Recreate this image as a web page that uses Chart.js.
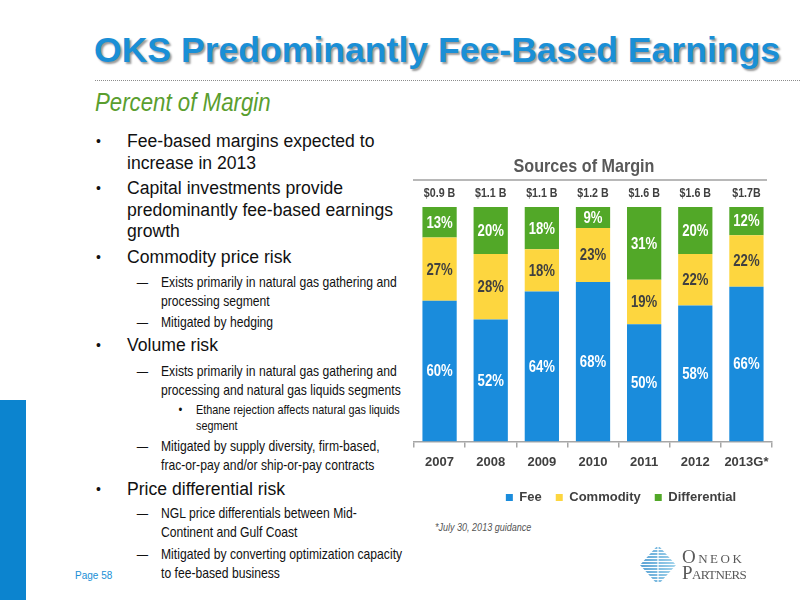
<!DOCTYPE html>
<html>
<head>
<meta charset="UTF-8">
<title>OKS Predominantly Fee-Based Earnings</title>
<script src="https://cdn.jsdelivr.net/npm/chart.js@4"></script>
<style>
	html, body {
		margin: 0;
		width: 800px;
		height: 600px;
		overflow: hidden;
		background: #fff;
		font-family: "Liberation Sans", Arial, sans-serif;
		color: #111;
	}
	.abs { position: absolute; white-space: nowrap; }
	.narrow { transform-origin: 0 0; }
	#title {
		left: 94px; top: 30px;
		font-size: 35.6px; font-weight: bold; color: #1a8fd6;
		text-shadow: 2px 2px 2px #9a9a9a;
	}
	#rule { left: 95px; top: 80px; width: 705px; border-top: 1px dotted #8c8c8c; }
	#subtitle {
		left: 95px; top: 88px;
		font-size: 25px; font-style: italic; color: #5a9e2f;
		transform: scaleX(0.89);
	}
	.b1 { left: 127px; font-size: 17.6px; line-height: 21.5px; }
	.b2 { left: 161px; font-size: 15px; line-height: 18.5px; transform: scaleX(0.81); }
	.b3 { left: 196px; font-size: 13px; line-height: 16px; transform: scaleX(0.835); }
	.b1::before, .b2::before, .b3::before { position: absolute; }
	.b1::before { content: "\2022"; left: -31px; font-size: 14px; }
	.b2::before { content: "\2014"; left: -30px; font-size: 14px; }
	.b3::before { content: "\2022"; left: -21px; }
	#sidebar { left: 0; top: 400px; width: 26px; height: 200px; background: #0c84cf; }
	#page { left: 75px; top: 570px; font-size: 10px; color: #1a8fd6; }
	#note {
		left: 435px; top: 521px;
		font-size: 11px; font-style: italic; color: #555;
		transform: scaleX(0.82);
	}
	#chartBox { position: absolute; left: 400px; top: 150px; width: 440px; height: 400px; }
	#logoText {
		left: 682px; top: 549px;
		font-family: "Liberation Serif", serif; font-variant: small-caps;
		font-size: 19px; line-height: 15.5px; color: #595959;
	}
</style>
</head>
<body>
	<div id="title" class="abs">OKS Predominantly Fee-Based Earnings</div>
	<div id="rule" class="abs"></div>
	<div id="subtitle" class="abs narrow">Percent of Margin</div>

	<div class="abs b1" style="top:131px">Fee-based margins expected to<br>increase in 2013</div>
	<div class="abs b1" style="top:178px">Capital investments provide<br>predominantly fee-based earnings<br>growth</div>
	<div class="abs b1" style="top:247px">Commodity price risk</div>
	<div class="abs b2 narrow" style="top:273px">Exists primarily in natural gas gathering and<br>processing segment</div>
	<div class="abs b2 narrow" style="top:313px">Mitigated by hedging</div>
	<div class="abs b1" style="top:335px">Volume risk</div>
	<div class="abs b2 narrow" style="top:362px">Exists primarily in natural gas gathering and<br>processing and natural gas liquids segments</div>
	<div class="abs b3 narrow" style="top:402px">Ethane rejection affects natural gas liquids<br>segment</div>
	<div class="abs b2 narrow" style="top:437px">Mitigated by supply diversity, firm-based,<br>frac-or-pay and/or ship-or-pay contracts</div>
	<div class="abs b1" style="top:479px">Price differential risk</div>
	<div class="abs b2 narrow" style="top:504px">NGL price differentials between Mid-<br>Continent and Gulf Coast</div>
	<div class="abs b2 narrow" style="top:545px">Mitigated by converting optimization capacity<br>to fee-based business</div>

	<div id="sidebar" class="abs"></div>
	<div id="page" class="abs">Page 58</div>
	<div id="note" class="abs narrow">*July 30, 2013 guidance</div>

	<div id="chartBox"><canvas id="marginChart"></canvas></div>

	<svg class="abs" style="left:638px; top:544px" width="40" height="42" viewBox="0 0 40 42">
		<defs>
			<clipPath id="dia"><polygon points="20,1 38,21 20,41 2,21"/></clipPath>
			<linearGradient id="fade" gradientUnits="userSpaceOnUse" x1="0" y1="0" x2="40" y2="0">
				<stop offset="0" stop-color="#1b7fc4"/>
				<stop offset="1" stop-color="#8ccbe8"/>
			</linearGradient>
		</defs>
		<g clip-path="url(#dia)" stroke="url(#fade)" stroke-width="1.7">
			<line x1="0" y1="4" x2="40" y2="4"/><line x1="0" y1="7" x2="40" y2="7"/>
			<line x1="0" y1="10" x2="40" y2="10"/><line x1="0" y1="13" x2="40" y2="13"/>
			<line x1="0" y1="16" x2="40" y2="16"/><line x1="0" y1="19" x2="40" y2="19"/>
			<line x1="0" y1="22" x2="40" y2="22"/><line x1="0" y1="25" x2="40" y2="25"/>
			<line x1="0" y1="28" x2="40" y2="28"/><line x1="0" y1="31" x2="40" y2="31"/>
			<line x1="0" y1="34" x2="40" y2="34"/><line x1="0" y1="37" x2="40" y2="37"/>
		</g>
		<line x1="20" y1="0" x2="20" y2="42" stroke="#fff" stroke-width="1.2"/>
	</svg>
	<div id="logoText" class="abs"><span style="letter-spacing:2.5px">Oneok</span><br><span style="letter-spacing:-0.6px">Partners</span></div>
<script>

var FONT = '"Liberation Sans", Arial, sans-serif';

var years = ['2007', '2008', '2009', '2010', '2011', '2012', '2013G*'];
var totals = ['$0.9 B', '$1.1 B', '$1.1 B', '$1.2 B', '$1.6 B', '$1.6 B', '$1.7B'];
var fee = [60, 52, 64, 68, 50, 58, 66];
var commodity = [27, 28, 18, 23, 19, 22, 22];
var differential = [13, 20, 18, 9, 31, 20, 12];

// text squeezed horizontally to look like a narrow face
function narrowText(ctx, text, x, y, squeeze) {
	ctx.save();
	ctx.translate(x, y);
	ctx.scale(squeeze, 1);
	ctx.fillText(text, 0, 0);
	ctx.restore();
}

// percent labels inside the segments, totals above the bars, chart header
var marginLabels = {
	id: 'marginLabels',
	afterDatasetsDraw: function(chart) {
		var ctx = chart.ctx;
		var area = chart.chartArea;
		ctx.save();
		ctx.textAlign = 'center';
		ctx.textBaseline = 'middle';
		ctx.font = 'bold 16px ' + FONT;
		chart.data.datasets.forEach(function(ds, i) {
			chart.getDatasetMeta(i).data.forEach(function(bar, j) {
				ctx.fillStyle = ds.labelColor;
				narrowText(ctx, ds.data[j] + '%', bar.x, (bar.y + bar.base) / 2 + 1, 0.82);
			});
		});

		ctx.fillStyle = '#404040';
		ctx.font = 'bold 13px ' + FONT;
		chart.getDatasetMeta(0).data.forEach(function(bar, j) {
			narrowText(ctx, totals[j], bar.x, area.top - 14, 0.82);
		});

		ctx.fillStyle = '#595959';
		ctx.font = 'bold 19px ' + FONT;
		narrowText(ctx, 'Sources of Margin', area.left + 170, 17, 0.85);
		ctx.strokeStyle = '#a0a0a0';
		ctx.lineWidth = 1.5;
		ctx.beginPath();
		ctx.moveTo(area.left - 1, 30);
		ctx.lineTo(area.right - 5, 30);
		ctx.stroke();
		ctx.restore();
	}
};

window.onload = function() {
	var ctx = document.getElementById('marginChart').getContext('2d');
	window.marginChart = new Chart(ctx, {
		type: 'bar',
		data: {
			labels: years,
			datasets: [{
				label: 'Fee',
				data: fee,
				backgroundColor: '#1a8cdc',
				labelColor: '#ffffff'
			}, {
				label: 'Commodity',
				data: commodity,
				backgroundColor: '#fdd63f',
				labelColor: '#404040'
			}, {
				label: 'Differential',
				data: differential,
				backgroundColor: '#52a828',
				labelColor: '#ffffff'
			}]
		},
		options: {
			responsive: true,
			maintainAspectRatio: false,
			animation: false,
			barPercentage: 0.67,
			categoryPercentage: 1,
			layout: { padding: { top: 57, left: 14, right: 12, bottom: 36 } },
			plugins: {
				title: { display: false },
				tooltip: { enabled: false },
				legend: {
					position: 'bottom',
					labels: {
						boxWidth: 7,
						boxHeight: 7,
						padding: 14,
						color: '#404040',
						font: { family: FONT, size: 13, weight: 'bold' }
					}
				}
			},
			scales: {
				x: {
					stacked: true,
					border: { display: true, color: '#a6a6a6', width: 1.5 },
					grid: { display: true, offset: true, drawOnChartArea: false, drawTicks: true, tickLength: 6, color: '#a6a6a6', lineWidth: 1.5 },
					ticks: { color: '#404040', padding: 7, maxRotation: 0, autoSkip: false, font: { family: FONT, size: 13, weight: 'bold' } }
				},
				y: {
					stacked: true,
					position: 'right',
					min: 0,
					max: 100,
					ticks: { display: false },
					grid: { display: false },
					border: { display: false },
					afterFit: function(axis) { axis.width = 56; }
				}
			}
		},
		plugins: [marginLabels]
	});
};

</script>
</body>
</html>
